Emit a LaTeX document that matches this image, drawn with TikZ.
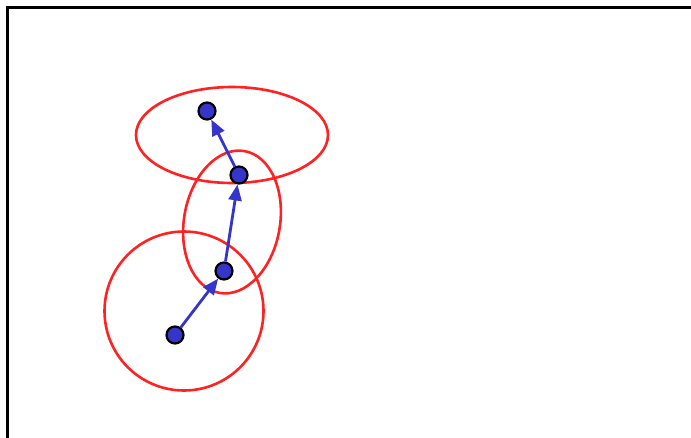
\documentclass[tikz,border=0pt]{standalone}
\usetikzlibrary{arrows.meta}
\definecolor{ptblue}{HTML}{3535CC}
\definecolor{ered}{HTML}{FF2222}
\begin{document}
\begin{tikzpicture}[x=1pt,y=1pt,
  pt/.style={circle,fill=ptblue,draw=black,line width=2.2pt,minimum size=17pt,inner sep=0pt},
  conn/.style={draw=ptblue,line width=2.8pt,-{Triangle[length=16pt,width=13pt]}},
  region/.style={draw=ered,line width=2.6pt}]
\useasboundingbox (0,0) rectangle (691,437);
\draw[line width=2.8pt,black] (7.5,-5) -- (7.5,429.5) -- (700,429.5);
\draw[region] (184,126) circle [radius=79.5];
\draw[region] (232,215) ellipse [x radius=48, y radius=72, rotate=-10];
\draw[region] (232,302) ellipse [x radius=96, y radius=48];
\node[pt] (p1) at (175,102) {};
\node[pt] (p2) at (224,166) {};
\node[pt] (p3) at (239,262) {};
\node[pt] (p4) at (207,326) {};
\draw[conn] (p1) -- (p2);
\draw[conn] (p2) -- (p3);
\draw[conn] (p3) -- (p4);
\end{tikzpicture}
\end{document}
